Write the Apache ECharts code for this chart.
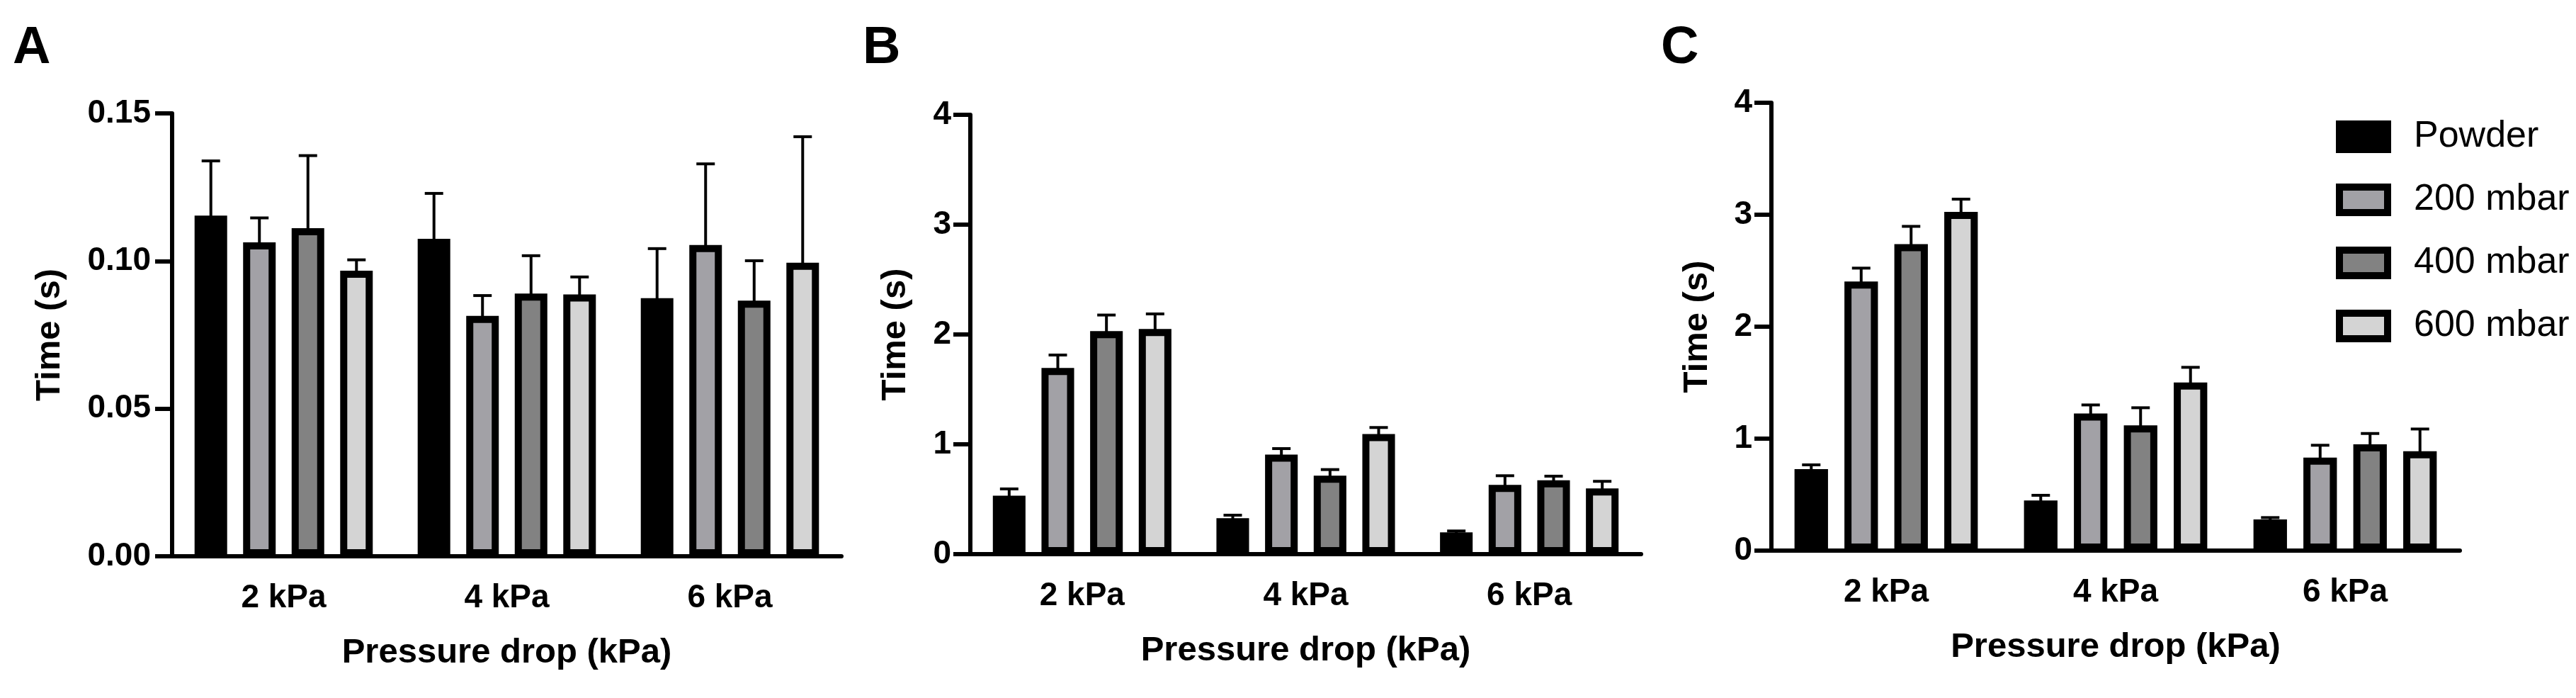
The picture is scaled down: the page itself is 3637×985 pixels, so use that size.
<!DOCTYPE html>
<html>
<head>
<meta charset="utf-8">
<title>Time vs pressure drop</title>
<script src="https://cdn.jsdelivr.net/npm/echarts@6/dist/echarts.min.js"></script>
<style>
  html, body { margin: 0; padding: 0; background: #fff; }
  #chart { width: 3637px; height: 985px; }
</style>
</head>
<body>
<div id="chart"></div>
<script>
var categories = ['2 kPa', '4 kPa', '6 kPa'];
var seriesNames = ['Powder', '200 mbar', '400 mbar', '600 mbar'];
var fills = ['#000000', '#a2a1a6', '#828282', '#d4d4d4'];

// panel A: mean and upper error, rows follow seriesNames
var meansA = [
    [0.1154, 0.1075, 0.0874],
    [0.1063, 0.0814, 0.1054],
    [0.1111, 0.0890, 0.0866],
    [0.0967, 0.0887, 0.0994]
];
var errA = [
    [0.0185, 0.0154, 0.0168],
    [0.0083, 0.0069, 0.0275],
    [0.0246, 0.0128, 0.0135],
    [0.0037, 0.0059, 0.0427]
];

// panel B
var meansB = [
    [0.532, 0.327, 0.198],
    [1.695, 0.907, 0.630],
    [2.030, 0.714, 0.673],
    [2.050, 1.093, 0.598]
];
var errB = [
    [0.062, 0.028, 0.013],
    [0.118, 0.054, 0.084],
    [0.147, 0.056, 0.037],
    [0.137, 0.060, 0.065]
];

// panel C
var meansC = [
    [0.728, 0.447, 0.279],
    [2.403, 1.224, 0.831],
    [2.738, 1.118, 0.950],
    [3.026, 1.502, 0.888]
];
var errC = [
    [0.038, 0.047, 0.016],
    [0.120, 0.077, 0.110],
    [0.158, 0.158, 0.096],
    [0.113, 0.135, 0.198]
];

var yMaxes = [0.15, 4, 4];
var yIntervals = [0.05, 1, 1];
var panelLetters = ['A', 'B', 'C'];

var FONT = '"Liberation Sans", Arial, sans-serif';
var BAR_W = 0.146;   // share of the category band
var BAR_GAP = 0.49;  // gap as share of bar width

var panels = [
    { means: meansA, errs: errA, grid: { left: 243, top: 160, width: 945, height: 625 }, letterLeft: 13, labelMargin: 30, nameGap: 148, decimals: 2 },
    { means: meansB, errs: errB, grid: { left: 1370, top: 162, width: 947, height: 620 }, letterLeft: 1213, labelMargin: 27, nameGap: 81, decimals: 0 },
    { means: meansC, errs: errC, grid: { left: 2501, top: 145, width: 972, height: 632 }, letterLeft: 2340, labelMargin: 27, nameGap: 80, decimals: 0 }
];

// upper error bar with a cap, placed over the k-th bar of the group
function renderError(params, api) {
    var cat = api.value(0);
    var mean = api.value(1);
    var err = api.value(2);
    var k = api.value(3);
    var base = api.coord([cat, mean]);
    var top = api.coord([cat, mean + err]);
    var band = api.size([1, 0])[0];
    var w = band * BAR_W;
    var x = base[0] + (k - 1.5) * w * (1 + BAR_GAP);
    var half = 13;
    return {
        type: 'group',
        children: [
            { type: 'line', shape: { x1: x, y1: base[1] + 2, x2: x, y2: top[1] }, style: { stroke: '#000', lineWidth: 4 } },
            { type: 'line', shape: { x1: x - half, y1: top[1], x2: x + half, y2: top[1] }, style: { stroke: '#000', lineWidth: 4 } }
        ]
    };
}

var chart = echarts.init(document.getElementById('chart'));

var titles = [], grids = [], xAxes = [], yAxes = [], series = [];

panels.forEach(function (p, i) {
    titles.push({
        text: panelLetters[i],
        left: p.letterLeft,
        top: 27,
        textStyle: { fontSize: 74, fontWeight: 'bold', color: '#000', fontFamily: FONT }
    });
    grids.push(p.grid);
    xAxes.push({
        type: 'category',
        gridIndex: i,
        data: categories,
        z: 10,
        axisLine: { lineStyle: { color: '#000', width: 6 } },
        axisTick: { alignWithLabel: true, length: 27, lineStyle: { color: '#000', width: 6 } },
        axisLabel: { margin: 36, fontSize: 46, fontWeight: 'bold', color: '#000', fontFamily: FONT },
        name: 'Pressure drop (kPa)',
        nameLocation: 'middle',
        nameGap: 112,
        nameTextStyle: { fontSize: 49, fontWeight: 'bold', color: '#000', fontFamily: FONT }
    });
    yAxes.push({
        type: 'value',
        gridIndex: i,
        min: 0,
        max: yMaxes[i],
        interval: yIntervals[i],
        z: 10,
        splitLine: { show: false },
        axisLine: { show: true, lineStyle: { color: '#000', width: 6 } },
        axisTick: { show: true, length: 24, lineStyle: { color: '#000', width: 6 } },
        axisLabel: {
            margin: p.labelMargin,
            fontSize: 46, fontWeight: 'bold', color: '#000', fontFamily: FONT,
            formatter: (function (d) { return function (v) { return v.toFixed(d); }; })(p.decimals)
        },
        name: 'Time (s)',
        nameLocation: 'middle',
        nameGap: p.nameGap,
        nameTextStyle: { fontSize: 49, fontWeight: 'bold', color: '#000', fontFamily: FONT }
    });

    var errData = [];
    seriesNames.forEach(function (name, k) {
        series.push({
            name: name,
            type: 'bar',
            xAxisIndex: i,
            yAxisIndex: i,
            barWidth: (BAR_W * 100) + '%',
            barGap: (BAR_GAP * 100) + '%',
            itemStyle: { color: fills[k], borderColor: '#000', borderWidth: 10 },
            emphasis: { disabled: true },
            data: p.means[k]
        });
        p.means[k].forEach(function (m, c) {
            errData.push([c, m, p.errs[k][c], k]);
        });
    });
    series.push({
        type: 'custom',
        xAxisIndex: i,
        yAxisIndex: i,
        z: 3,
        renderItem: renderError,
        data: errData
    });
});

var option = {
    animation: false,
    backgroundColor: '#fff',
    title: titles,
    legend: {
        orient: 'vertical',
        left: 3293,
        top: 162,
        itemWidth: 68,
        itemHeight: 36,
        itemGap: 37,
        icon: 'rect',
        data: seriesNames,
        itemStyle: { borderColor: '#000', borderWidth: 10 },
        textStyle: { fontSize: 52, color: '#000', fontFamily: FONT, padding: [0, 0, 0, 32] }
    },
    grid: grids,
    xAxis: xAxes,
    yAxis: yAxes,
    series: series
};

chart.setOption(option);
</script>
</body>
</html>
